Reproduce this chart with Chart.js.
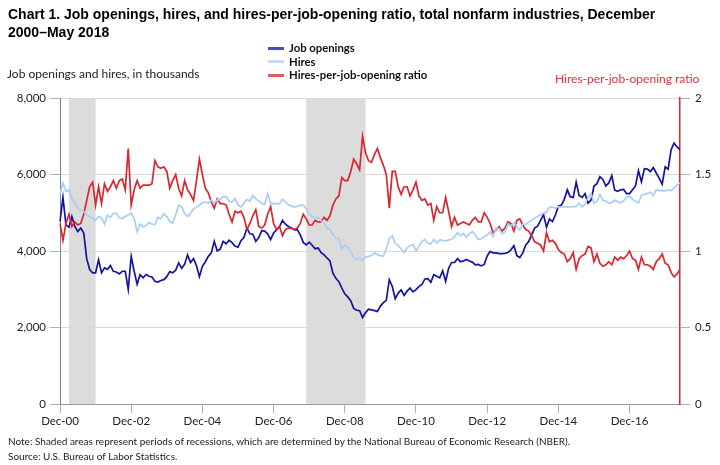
<!DOCTYPE html>
<html lang="en">
<head>
  <meta charset="UTF-8">
  <title>Chart 1. Job openings, hires, and hires-per-job-opening ratio</title>
  <script src="https://cdn.jsdelivr.net/npm/chart.js"></script>
  <style>
    body {
      margin: 0;
      background: #fff;
    }

    #wrap {
      position: relative;
      width: 720px;
      height: 465px;
      font-family: Lato, 'Open Sans', sans-serif;
      color: #222;
    }

    #grafico {
      position: absolute;
      left: 0;
      top: 0;
    }

    .txt {
      position: absolute;
      white-space: nowrap;
    }

    #titulo {
      left: 8px;
      top: 5px;
      font: bold 14px 'Liberation Sans', Arial, sans-serif;
      line-height: 18px;
      color: #000;
    }

    #legenda {
      left: 268px;
      top: 41px;
      font-size: 11.3px;
      font-weight: bold;
      line-height: 13.5px;
      color: #111;
    }

    #legenda span {
      display: inline-block;
      width: 16px;
      height: 3px;
      margin-right: 5px;
      vertical-align: middle;
      position: relative;
      top: -1px;
    }

    #eixoEsq { left: 7px; top: 66px; font-size: 12px; color: #222; }
    #eixoDir { left: 555px; top: 71px; font-size: 12px; color: #e0303a; }
    #nota { left: 8px; top: 434px; font-size: 10px; line-height: 15px; color: #222; }
  </style>
</head>
<body>

<div id="wrap">
  <canvas id="grafico" width="720" height="465"></canvas>

  <div class="txt" id="titulo">Chart 1. Job openings, hires, and hires-per-job-opening ratio, total nonfarm industries, December<br>2000–May 2018</div>

  <div class="txt" id="legenda">
    <div><span style="background:#4a4ac4"></span>Job openings</div>
    <div><span style="background:#c4dcf7"></span>Hires</div>
    <div><span style="background:#e05a5f"></span>Hires-per-job-opening ratio</div>
  </div>

  <div class="txt" id="eixoEsq">Job openings and hires, in thousands</div>
  <div class="txt" id="eixoDir">Hires-per-job-opening ratio</div>

  <div class="txt" id="nota">Note: Shaded areas represent periods of recessions, which are determined by the National Bureau of Economic Research (NBER).<br>Source: U.S. Bureau of Labor Statistics.</div>
</div>

<script>
  // meses de Dec-00 a May-18 (210 pontos)
  const nomesMes = ['Jan', 'Feb', 'Mar', 'Apr', 'May', 'Jun', 'Jul', 'Aug', 'Sep', 'Oct', 'Nov', 'Dec'];
  const meses = [];
  for (let k = 0; k < 210; k++) {
    const m = (11 + k) % 12;
    const a = 2000 + Math.floor((11 + k) / 12);
    meses.push(nomesMes[m] + '-' + String(a % 100).padStart(2, '0'));
  }

  const rotulosX = ['Dec-00', 'Dec-02', 'Dec-04', 'Dec-06', 'Dec-08', 'Dec-10', 'Dec-12', 'Dec-14', 'Dec-16'];

  // recessoes (indice inicial, indice final)
  const recessoes = [[3, 12], [83, 103]];

  const vagas = [
    4770, 5400, 4690, 4620, 4900, 4640, 4510, 4600, 4470, 3800,
    3515, 3430, 3430, 3770, 3430, 3560, 3520, 3620, 3470, 3450,
    3400, 3470, 3470, 3000, 3860, 3470, 3130, 3380, 3300, 3385,
    3340, 3320, 3210, 3190, 3230, 3250, 3330, 3460, 3430, 3500,
    3690, 3550, 3650, 3900, 3700, 3800, 3620, 3330, 3600, 3720,
    3860, 3950, 4250, 4000, 4050, 4250, 4190, 4280, 4220, 4130,
    4100, 4270, 4350, 4600, 4450, 4440, 4250, 4350, 4530, 4520,
    4450, 4300, 4470, 4550, 4640, 4800, 4700, 4640, 4600, 4554,
    4560, 4420, 4225, 4160, 4230, 4150, 4060, 4077, 3960, 3900,
    3818, 3740, 3420, 3285, 3200, 3030, 2880, 2800, 2700, 2500,
    2450, 2440, 2260, 2390, 2480, 2460, 2440, 2420, 2560, 2650,
    2710, 3250, 3080, 2750, 2900, 2980, 2840, 2950, 3030, 2930,
    2990, 3070, 3125, 3270, 3280, 3180, 3380, 3341, 3300, 3480,
    3210, 3550, 3700, 3700, 3800, 3720, 3740, 3780, 3740, 3710,
    3640, 3650, 3610, 3650, 3870, 3990, 3950, 3950, 3930, 3930,
    3940, 3960, 4030, 4140, 3880, 3830, 3950, 4160, 4250, 4420,
    4600, 4650, 4800, 4950, 4620, 4840, 4770, 4940, 5170, 5200,
    5350, 5600, 5420, 5400, 5800, 5450, 5400, 5500, 5250, 5330,
    5700, 5760, 5940, 5870, 5700, 5780, 5970, 5590, 5560, 5600,
    5610, 5500, 5500, 5600, 5700, 6100, 5810, 6150, 6140, 6080,
    6180, 6040, 5900, 5750, 6200, 6140, 6650, 6820, 6720, 6650
  ];

  const contratacoes = [
    5490, 5780, 5550, 5600, 5380, 5250, 5140, 5070, 5030, 4943,
    4900, 4857, 4800, 4900, 4870, 4700, 4940, 4880, 4980, 4990,
    4870, 4850, 4900, 4950, 4990, 4850, 4500, 4700, 4630, 4660,
    4750, 4700, 4690, 4880, 4850, 4980, 4900, 4770, 4730, 4950,
    5200, 5160, 4980, 4900, 4990, 5100, 5140, 5200, 5260, 5280,
    5250, 5330, 5260, 5330, 5350, 5420, 5420, 5300, 5280, 5370,
    5200, 5150, 5250, 5350, 5300, 5450, 5370, 5300, 5250, 5220,
    5500, 5250, 5240, 5240, 5230, 5350, 5290, 5210, 5180, 5150,
    5170, 5200, 5200, 5110, 4960, 4900, 4850, 4880, 4790, 4760,
    4600, 4560, 4430, 4340, 4330, 4050, 4150, 4100, 3990, 3830,
    3780, 3810, 3760, 3840, 3860, 3880, 3950, 3900, 3880, 3860,
    4060, 4330, 4400, 4200, 4150, 4050, 3960, 4080, 4140, 4170,
    4000, 4120, 4250, 4300, 4200, 4180, 4300, 4210, 4290, 4280,
    4260, 4290, 4300, 4370, 4480, 4400, 4460, 4360, 4450, 4510,
    4420, 4300, 4320, 4380, 4420, 4500, 4380, 4600, 4590, 4450,
    4500, 4700, 4650, 4740, 4640, 4550, 4700, 4700, 4750, 4810,
    4860, 4900, 4950, 4990, 5020, 5140, 5150, 5120, 5160, 5150,
    5150, 5160, 5150, 5160, 5170, 5250, 5150, 5230, 5400, 5500,
    5250, 5300, 5480, 5330, 5300, 5250, 5270, 5330, 5290, 5260,
    5320, 5400, 5430, 5350, 5300, 5260, 5450, 5490, 5500, 5540,
    5450, 5600, 5580, 5580, 5570, 5600, 5580, 5650, 5720, 5780
  ];

  const razao = [
    1.18, 1.07, 1.18, 1.24, 1.16, 1.19, 1.17, 1.18, 1.24, 1.33,
    1.42, 1.45, 1.30, 1.42, 1.31, 1.44, 1.39, 1.42, 1.46, 1.41,
    1.46, 1.47, 1.40, 1.67, 1.30, 1.40, 1.46, 1.41, 1.43, 1.43,
    1.43, 1.44, 1.59, 1.55, 1.54, 1.55, 1.52, 1.41, 1.46, 1.50,
    1.41, 1.36, 1.46, 1.40, 1.37, 1.33, 1.46, 1.60, 1.50, 1.41,
    1.38, 1.32, 1.28, 1.34, 1.31, 1.31, 1.30, 1.24, 1.19, 1.26,
    1.25, 1.26, 1.22, 1.14, 1.18, 1.23, 1.27, 1.16, 1.15, 1.17,
    1.24, 1.29, 1.18, 1.14, 1.16, 1.10, 1.14, 1.15, 1.15, 1.14,
    1.15, 1.18, 1.24, 1.21, 1.17, 1.17, 1.20, 1.19, 1.19, 1.22,
    1.20, 1.23, 1.30, 1.34, 1.36, 1.48, 1.46, 1.46, 1.52, 1.60,
    1.57, 1.53, 1.75, 1.64, 1.59, 1.58, 1.63, 1.67, 1.61, 1.56,
    1.50, 1.28, 1.52, 1.52, 1.42, 1.37, 1.42, 1.42, 1.36, 1.40,
    1.45, 1.36, 1.33, 1.34, 1.30, 1.31, 1.20, 1.29, 1.25, 1.25,
    1.35, 1.26, 1.16, 1.22, 1.17, 1.18, 1.19, 1.18, 1.17, 1.20,
    1.22, 1.19, 1.19, 1.25, 1.22, 1.18, 1.12, 1.14, 1.16, 1.13,
    1.15, 1.19, 1.18, 1.13, 1.20, 1.21, 1.17, 1.14, 1.13, 1.10,
    1.06, 1.05, 1.04, 1.00, 1.12, 1.06, 1.07, 1.05, 1.01, 0.99,
    0.98, 0.93, 0.95, 0.99, 0.88, 0.95, 0.97, 0.98, 1.03, 1.02,
    0.93, 0.98, 0.92, 0.90, 0.91, 0.93, 0.91, 0.96, 0.94, 0.96,
    0.95, 0.97, 1.00, 0.95, 0.94, 0.88, 0.96, 0.91, 0.91, 0.90,
    0.88, 0.93, 0.95, 0.98, 0.92, 0.91, 0.86, 0.83, 0.85, 0.88
  ];

  // faixas cinza das recessoes, desenhadas antes da grade
  const faixasRecessao = {
    id: 'faixasRecessao',
    beforeDraw(chart) {
      const { ctx, chartArea, scales } = chart;
      ctx.save();
      ctx.fillStyle = '#dcdcdc';
      recessoes.forEach(([ini, fim]) => {
        const x1 = scales.x.getPixelForValue(ini);
        const x2 = scales.x.getPixelForValue(fim);
        ctx.fillRect(x1, chartArea.top, x2 - x1, chartArea.bottom - chartArea.top);
      });
      ctx.restore();
    }
  };

  const fonteEixo = { family: 'Lato', size: 11.5 };

  const ctx = document.getElementById('grafico').getContext('2d');
  new Chart(ctx, {
    type: 'line',
    data: {
      labels: meses,
      datasets: [
        {
          label: 'Hires',
          data: contratacoes,
          yAxisID: 'y',
          borderColor: '#a9cdf6',
          borderWidth: 1.7,
          pointRadius: 0
        },
        {
          label: 'Hires-per-job-opening ratio',
          data: razao,
          yAxisID: 'y1',
          borderColor: '#d9262f',
          borderWidth: 1.7,
          pointRadius: 0
        },
        {
          label: 'Job openings',
          data: vagas,
          yAxisID: 'y',
          borderColor: '#1414a0',
          borderWidth: 1.7,
          pointRadius: 0
        }
      ]
    },
    options: {
      responsive: false,
      animation: false,
      layout: { padding: { top: 98, bottom: 31, left: 0, right: 0 } },
      plugins: {
        legend: { display: false },
        tooltip: { enabled: false }
      },
      scales: {
        x: {
          grid: { drawOnChartArea: false, tickLength: 9, color: '#a6b3c4' },
          border: { color: '#9a9a9a' },
          ticks: {
            autoSkip: false,
            maxRotation: 0,
            padding: 1,
            color: '#222',
            font: fonteEixo,
            callback(v, i) {
              const r = this.getLabelForValue(v);
              return rotulosX.includes(r) && i % 24 === 0 ? r : null;
            }
          },
          afterFit(s) { s.height = 30; }
        },
        y: {
          position: 'left',
          min: 0,
          max: 8000,
          ticks: { stepSize: 2000, padding: 4, color: '#222', font: fonteEixo },
          grid: { color: '#d9d9d9', tickColor: '#a6b3c4', tickLength: 10 },
          border: { color: '#808080' },
          afterFit(s) { s.width = 60; }
        },
        y1: {
          position: 'right',
          min: 0,
          max: 2,
          ticks: {
            stepSize: 0.5,
            padding: 5,
            color: '#222',
            font: fonteEixo,
            callback: (v) => String(Number(v))
          },
          grid: { drawOnChartArea: false, tickColor: '#a6b3c4', tickLength: 10 },
          border: { color: '#d9262f', width: 1.5 },
          afterFit(s) { s.width = 40; }
        }
      }
    },
    plugins: [faixasRecessao]
  });
</script>

</body>
</html>
